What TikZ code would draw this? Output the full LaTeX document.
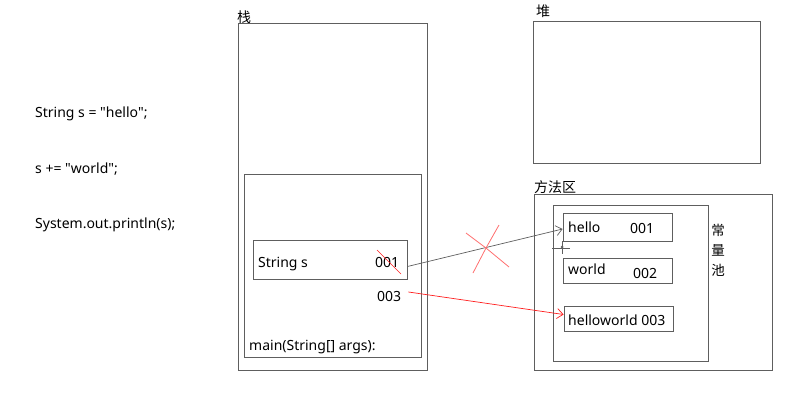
\documentclass[tikz,border=0pt]{standalone}
\usepackage{fontspec}
\setmainfont{Noto Sans}[Ligatures=TeXOff]
\newfontfamily\cjk{Noto Sans CJK SC}
\usepackage{xcolor}
\usepackage{tikz}
\usetikzlibrary{positioning,calc,arrows.meta}
\definecolor{linegray}{HTML}{5E5E5E}
\definecolor{refred}{HTML}{FF1E1E}
\definecolor{crossred}{HTML}{FF6E6E}

\begin{document}
\begin{tikzpicture}[x=1pt,y=-1pt,font=\fontsize{14}{16}\selectfont,
  area/.style={draw=linegray,line width=0.9pt,inner sep=0pt},
  txt/.style={inner sep=0pt,anchor=base west},
  ptr/.style={-{Straight Barb[length=6pt,width=10pt]},line width=0.7pt}]
  \useasboundingbox (0,0) rectangle (811,402);

  \node[txt] (l1) at (35,117) {String s = "hello";};
  \node[txt] (l2) at (35,173) {s += "world";};
  \node[txt] (l3) at (35,228) {System.out.println(s);};

  \node[area,minimum width=189pt,minimum height=347pt] (stack) at (332.5,196.5) {};
  \node[txt] (stacklbl) at (237,22) {\cjk 栈};
  \node[area,minimum width=177pt,minimum height=183pt] (frame) at (332.5,265.5) {};
  \node[area,minimum width=154pt,minimum height=39pt] (sbox) at (330,259.5) {};
  \node[txt] (svar) at (258,267) {String s};
  \node[txt] (old) at (375,267) {001};
  \node[txt] (new) at (377,301) {003};
  \node[txt] (main) at (249,350) {main(String[] args):};

  \node[area,minimum width=227pt,minimum height=142pt] (heap) at (646.5,92) {};
  \node[txt] (heaplbl) at (536,16) {\cjk 堆};

  \node[area,minimum width=238pt,minimum height=176pt] (method) at (653,282) {};
  \node[txt] (methodlbl) at (534,192) {\cjk 方法区};
  \node[area,minimum width=155pt,minimum height=156pt] (pool) at (630.5,283) {};
  \node[align=center,inner sep=0pt,font=\cjk\fontsize{13.5}{20}\selectfont] (poollbl) at (718,250) {常\\量\\池};

  \node[area,minimum width=109pt,minimum height=28pt] (hello) at (617.5,227) {};
  \node[txt] at (568,232) {hello};
  \node[txt] at (630,233) {001};
  \node[area,minimum width=109pt,minimum height=25pt] (world) at (617.5,270.5) {};
  \node[txt] at (568,274) {world};
  \node[txt] at (633,278) {002};
  \node[area,minimum width=109pt,minimum height=25pt] (hw) at (618.5,318.5) {};
  \node[txt] at (568,325) {helloworld 003};

  \draw[ptr,linegray] ([yshift=-7pt]sbox.east) -- ([yshift=-2pt]hello.west);
  \draw[ptr,refred] ([xshift=7pt,yshift=4pt]new.east) -- ([yshift=4pt]hw.west);

  \draw[refred,line width=0.5pt] (377,250) -- (401,274);
  \coordinate (cut) at (486,248);
  \draw[crossred,line width=0.8pt] (466,233) -- (cut) -- (509,267)
    (499,225) -- (cut) -- (473,273);

  \coordinate (cursor) at (562,247);
  \draw[linegray,line width=0.6pt] (552,248) -- (570,248) (562,241) -- (562,254);
  \fill[linegray] (cursor) circle (1.5pt);
\end{tikzpicture}
\end{document}
